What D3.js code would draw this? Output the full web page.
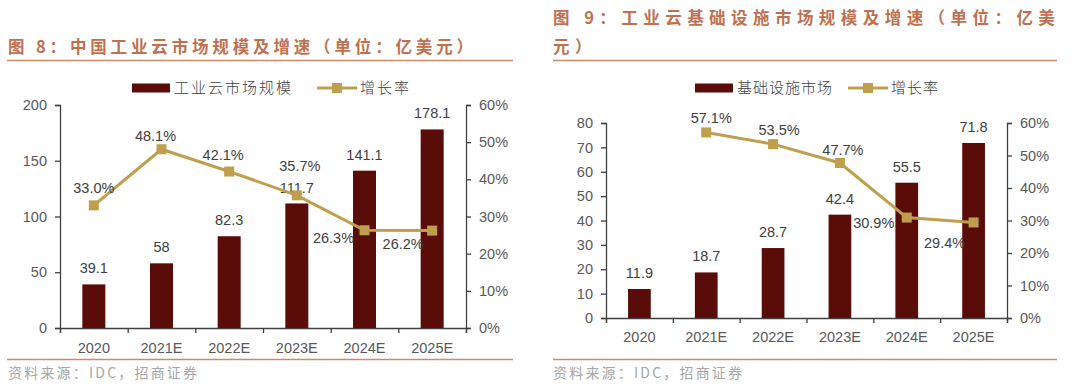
<!DOCTYPE html>
<html>
<head>
<meta charset="utf-8">
<script src="https://cdn.jsdelivr.net/npm/d3@7"></script>
<style>
  body { margin: 0; background: #fff; }
  svg { display: block; }
  .tick text { font-family: "Liberation Sans", Arial, sans-serif; font-size: 14.5px; fill: #595959; }
</style>
</head>
<body>
<svg id="chart" width="1080" height="388"></svg>
<script>
// data
var years = ["2020", "2021E", "2022E", "2023E", "2024E", "2025E"];
var cloudMarket = [39.1, 58, 82.3, 111.7, 141.1, 178.1];
var cloudGrowth = [0.330, 0.481, 0.421, 0.357, 0.263, 0.262];
var infraMarket = [11.9, 18.7, 28.7, 42.4, 55.5, 71.8];
var infraGrowth = [null, 0.571, 0.535, 0.477, 0.309, 0.294];
var cloudTicks = [0, 50, 100, 150, 200];
var infraTicks = [0, 10, 20, 30, 40, 50, 60, 70, 80];
var pctTicks = [0, 0.1, 0.2, 0.3, 0.4, 0.5, 0.6];

var BAR = "#590c08", GOLD = "#bf9f4e", TITLE = "#c0704f", RULE = "#cc8a6c";
var NUM_FONT = '"Liberation Sans", Arial, sans-serif';
var CJK_FONT = '"Noto Sans CJK SC", sans-serif';

var svg = d3.select("#chart");

function drawChart(o) {
    var g = svg.append("g");

    // title + rules
    var t = g.append("text")
        .attr("font-family", CJK_FONT).attr("font-weight", 700)
        .attr("font-size", 16.5).attr("letter-spacing", o.titleSpacing)
        .attr("fill", TITLE);
    o.title.forEach(function(line, i) {
        t.append("tspan").attr("x", o.titleX).attr("y", o.titleY + i * 29).text(line);
    });
    g.append("line").attr("x1", o.ruleX1).attr("x2", o.ruleX2)
        .attr("y1", 60.5).attr("y2", 60.5).attr("stroke", RULE).attr("stroke-width", 1.5);
    g.append("line").attr("x1", o.ruleX1).attr("x2", o.ruleX2)
        .attr("y1", 359.5).attr("y2", 359.5).attr("stroke", RULE).attr("stroke-width", 1.5);
    g.append("text").attr("x", o.titleX).attr("y", 378)
        .attr("font-family", CJK_FONT).attr("font-size", 14).attr("letter-spacing", 2.2)
        .attr("fill", "#a6a6a6").text("资料来源：IDC，招商证券");

    // scales
    var x = d3.scaleBand().domain(years).range([o.left, o.right]).paddingInner(0.66).paddingOuter(0.33);
    var y = d3.scaleLinear().domain([0, o.yMax]).range([o.bottom, o.top]);
    var y2 = d3.scaleLinear().domain([0, 0.6]).range([o.bottom, o.top]);

    // axes
    var axL = g.append("g").attr("transform", "translate(" + o.left + ",0)")
        .call(d3.axisLeft(y).tickValues(o.ticks).tickSize(5).tickPadding(8));
    var axR = g.append("g").attr("transform", "translate(" + o.right + ",0)")
        .call(d3.axisRight(y2).tickValues(pctTicks).tickSize(5).tickPadding(8).tickFormat(d3.format(".0%")));
    var xb = d3.scaleLinear().domain([0, years.length]).range([o.left, o.right]);
    var axX = g.append("g").attr("transform", "translate(0," + o.bottom + ")")
        .call(d3.axisBottom(xb).ticks(years.length).tickSize(5).tickFormat(""));
    [axL, axR, axX].forEach(function(a) {
        a.select(".domain").attr("stroke", "#404040").attr("stroke-width", 1.3);
        a.selectAll(".tick line").attr("stroke", "#404040").attr("stroke-width", 1.3);
    });
    g.selectAll(".xlab").data(years).enter().append("text")
        .attr("x", function(d) { return x(d) + x.bandwidth() / 2; })
        .attr("y", o.xLabY).attr("text-anchor", "middle")
        .attr("font-family", NUM_FONT).attr("font-size", 14.5).attr("fill", "#595959")
        .text(function(d) { return d; });

    // bars
    g.selectAll(".bar").data(o.bars).enter().append("rect")
        .attr("x", function(d, i) { return x(years[i]); })
        .attr("y", function(d) { return y(d); })
        .attr("width", x.bandwidth())
        .attr("height", function(d) { return o.bottom - y(d); })
        .attr("fill", BAR);
    g.selectAll(".barlab").data(o.bars).enter().append("text")
        .attr("x", function(d, i) { return x(years[i]) + x.bandwidth() / 2; })
        .attr("y", function(d) { return y(d) - 16; })
        .attr("dy", "0.35em").attr("text-anchor", "middle")
        .attr("font-family", NUM_FONT).attr("font-size", 14.5).attr("fill", "#404040")
        .text(function(d) { return d; });

    // growth line
    var pts = o.growth.map(function(v, i) { return {v: v, i: i}; })
        .filter(function(p) { return p.v !== null; });
    var cx = function(p) { return x(years[p.i]) + x.bandwidth() / 2; };
    g.append("path").datum(pts)
        .attr("fill", "none").attr("stroke", GOLD).attr("stroke-width", 3)
        .attr("d", d3.line().x(cx).y(function(p) { return y2(p.v); }));
    g.selectAll(".mk").data(pts).enter().append("rect")
        .attr("x", function(p) { return cx(p) - 5; })
        .attr("y", function(p) { return y2(p.v) - 5; })
        .attr("width", 10).attr("height", 10).attr("fill", GOLD);
    g.selectAll(".glab").data(pts).enter().append("text")
        .attr("x", function(p) { return cx(p) + o.offsets[p.i][0]; })
        .attr("y", function(p) { return y2(p.v) + o.offsets[p.i][1]; })
        .attr("dy", "0.35em").attr("text-anchor", "middle")
        .attr("font-family", NUM_FONT).attr("font-size", 14.5).attr("fill", "#404040")
        .text(function(p) { return d3.format(".1%")(p.v); });

    // legend
    var lg = g.append("g").attr("transform", "translate(0,88)");
    lg.append("rect").attr("x", o.legX).attr("y", -4.5).attr("width", 38).attr("height", 9).attr("fill", BAR);
    lg.append("text").attr("x", o.legX + 42).attr("y", 0).attr("dy", "0.36em")
        .attr("font-family", CJK_FONT).attr("font-weight", 300).attr("font-size", 15)
        .attr("letter-spacing", o.legSpacing).attr("fill", "#404040").text(o.barName);
    lg.append("line").attr("x1", o.legX2).attr("x2", o.legX2 + 40).attr("y1", 0).attr("y2", 0)
        .attr("stroke", GOLD).attr("stroke-width", 3);
    lg.append("rect").attr("x", o.legX2 + 15).attr("y", -5).attr("width", 10).attr("height", 10).attr("fill", GOLD);
    lg.append("text").attr("x", o.legX2 + 43).attr("y", 0).attr("dy", "0.36em")
        .attr("font-family", CJK_FONT).attr("font-weight", 300).attr("font-size", 15)
        .attr("letter-spacing", o.legSpacing).attr("fill", "#404040").text("增长率");
}

drawChart({
    title: ["图 8：中国工业云市场规模及增速（单位：亿美元）"],
    titleX: 8, titleY: 53, titleSpacing: 3.85,
    ruleX1: 7, ruleX2: 513,
    left: 60, right: 466, top: 105, bottom: 328, xLabY: 353,
    yMax: 200, ticks: cloudTicks,
    bars: cloudMarket, growth: cloudGrowth,
    offsets: [[0, -17], [-6, -13], [-6, -17], [3, -29], [-31, 8], [-29, 13]],
    legX: 132, legX2: 317, barName: "工业云市场规模", legSpacing: 2
});

drawChart({
    title: ["图 9：工业云基础设施市场规模及增速（单位：亿美", "元）"],
    titleX: 553, titleY: 24, titleSpacing: 5.45,
    ruleX1: 553, ruleX2: 1057,
    left: 606, right: 1007, top: 123, bottom: 318, xLabY: 342,
    yMax: 80, ticks: infraTicks,
    bars: infraMarket, growth: infraGrowth,
    offsets: [null, [5, -15], [6, -14], [3, -13], [-33, 5], [-29, 20]],
    legX: 695, legX2: 848, barName: "基础设施市场", legSpacing: 1
});
</script>
</body>
</html>
